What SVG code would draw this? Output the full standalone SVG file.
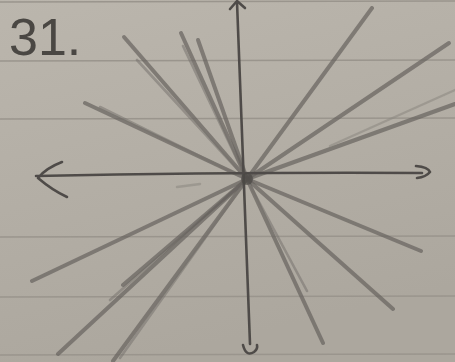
<svg xmlns="http://www.w3.org/2000/svg" width="455" height="362" viewBox="0 0 455 362">
<defs>
<linearGradient id="paper" x1="0" y1="0" x2="0.3" y2="1">
<stop offset="0" stop-color="#bbb6ad"/>
<stop offset="1" stop-color="#aca79e"/>
</linearGradient>
<filter id="soft" x="-5%" y="-5%" width="110%" height="110%">
<feGaussianBlur stdDeviation="0.7"/>
</filter>
<style>
.rule{stroke:#9a958d;stroke-width:1.6;fill:none}
.axis{stroke:#4f4c48;stroke-width:2.6;fill:none;stroke-linecap:round;stroke-linejoin:round}
.ray{stroke:#67635e;stroke-width:4;stroke-linecap:round;opacity:0.7;fill:none}
.ray2{stroke:#77736d;stroke-width:2.6;stroke-linecap:round;opacity:0.55;fill:none}
.faint{stroke:#8a867f;stroke-width:2.4;stroke-linecap:round;opacity:0.55;fill:none}
.num{font-family:"Liberation Sans",Arial,sans-serif;font-size:52px;fill:#4a4743}
</style>
</defs>
<rect width="455" height="362" fill="url(#paper)"/>
<g id="ruling">
<line class="rule" x1="0" y1="2" x2="455" y2="1"/>
<line class="rule" x1="0" y1="61" x2="455" y2="60"/>
<line class="rule" x1="0" y1="119" x2="455" y2="118"/>
<line class="rule" x1="0" y1="237" x2="455" y2="236"/>
<line class="rule" x1="0" y1="297" x2="455" y2="296"/>
<line class="rule" x1="0" y1="355" x2="455" y2="354"/>
</g>
<text id="label" class="num" x="9" y="55">31.</text>
<g id="rays" filter="url(#soft)">
<!-- upper left -->
<line class="ray" x1="247" y1="179" x2="124" y2="37"/>
<line class="ray2" x1="240" y1="172" x2="137" y2="60"/>
<line class="ray" x1="247" y1="179" x2="181" y2="33"/>
<line class="ray2" x1="243" y1="172" x2="183" y2="46"/>
<line class="ray" x1="247" y1="179" x2="198" y2="40"/>
<line class="ray" x1="247" y1="179" x2="85" y2="103"/>
<line class="ray2" x1="240" y1="176" x2="100" y2="107"/>
<!-- upper right -->
<line class="ray" x1="247" y1="179" x2="372" y2="8"/>
<line class="ray" x1="247" y1="179" x2="449" y2="43"/>
<line class="ray" x1="247" y1="179" x2="455" y2="104"/>
<line class="faint" x1="330" y1="146" x2="455" y2="90"/>
<!-- lower left -->
<line class="ray" x1="247" y1="179" x2="32" y2="281"/>
<line class="faint" x1="177" y1="187" x2="200" y2="184"/>
<line class="ray2" x1="240" y1="185" x2="110" y2="300"/>
<line class="ray" x1="247" y1="179" x2="123" y2="285"/>
<line class="ray" x1="247" y1="179" x2="58" y2="354"/>
<line class="ray" x1="247" y1="179" x2="113" y2="361"/>
<line class="ray2" x1="242" y1="186" x2="120" y2="358"/>
<!-- lower right -->
<line class="ray" x1="247" y1="179" x2="421" y2="251"/>
<line class="ray" x1="247" y1="179" x2="393" y2="309"/>
<line class="ray" x1="247" y1="179" x2="323" y2="343"/>
<line class="ray2" x1="251" y1="187" x2="307" y2="291"/>
</g>
<g id="axes" filter="url(#soft)">
<path class="axis" d="M237,2 Q244,170 250,344"/>
<path class="axis" d="M230,9 L237,1 L245,8"/>
<path class="axis" d="M243,345 Q246,357 254,352 Q258,349 257,345"/>
<path class="axis" d="M36,176 Q240,172 422,173"/>
<path class="axis" d="M62,162 Q46,168 38,178 Q52,190 67,197"/>
<path class="axis" d="M416,166 Q428,167 430,172 Q426,177 417,178"/>
<circle cx="247" cy="179" r="6" fill="#4a4743" stroke="none" opacity="0.65"/>
</g>
</svg>
